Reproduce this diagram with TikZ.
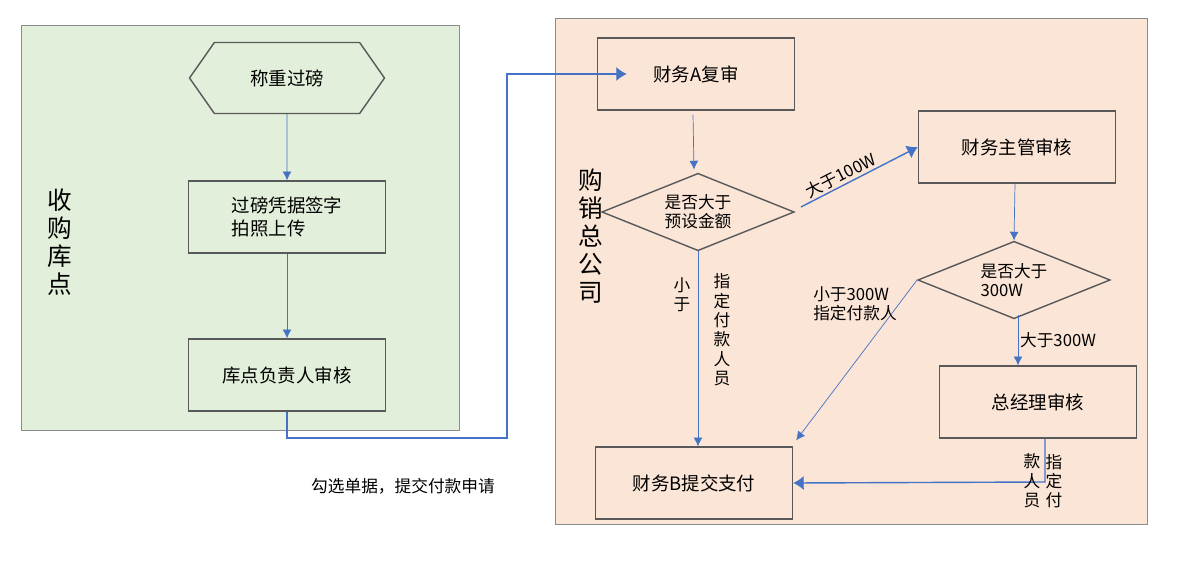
\documentclass[tikz,border=0pt]{standalone}
\usepackage{fontspec}
\setmainfont{Noto Sans CJK SC}
\usetikzlibrary{shapes,shapes.geometric,shapes.symbols,arrows.meta,calc,positioning}
\definecolor{flow}{HTML}{4472C4}
\definecolor{edge}{HTML}{595959}
\definecolor{greenbg}{HTML}{E2EFDA}
\definecolor{peachbg}{HTML}{FBE5D6}
\tikzset{
  box/.style={draw=edge,thick,minimum width=3.94cm,minimum height=1.44cm,font=\fontsize{10.5}{13}\selectfont},
  choice/.style={draw=edge,thick,diamond,aspect=2.55,inner sep=0pt,minimum width=3.85cm,minimum height=1.55cm,font=\fontsize{9.5}{11}\selectfont,align=left},
  thin flow/.style={flow,-{Latex[length=5pt,width=5pt]}},
  thick flow/.style={flow,thick,-{Latex[length=6pt,width=8pt]}},
  lbl/.style={font=\fontsize{9.5}{11}\selectfont,align=center,inner sep=1pt,text=black},
  side/.style={font=\fontsize{14}{16}\selectfont,align=center,inner sep=0pt}
}
\begin{document}
\begin{tikzpicture}[x=0.02cm,y=-0.02cm]
  \useasboundingbox (0,0) rectangle (1181,565);
  % panels
  \draw[edge!70,fill=greenbg] (21,25) rectangle (459,430);
  \draw[edge!70,fill=peachbg] (555,18) rectangle (1147,524);
  \node[side] (depot) at (60,242) {收\\购\\库\\点};
  \node[side] (head) at (591,236) {购\\销\\总\\公\\司};

  % left column
  \node[draw=edge,thick,signal,signal to=east and west,signal pointer angle=110,minimum width=3.9cm,minimum height=1.42cm,font=\fontsize{10.5}{13}\selectfont] (weigh) at (287,78) {称重过磅};
  \node[box,align=left] (sign) at (287,217) {过磅凭据签字\\拍照上传};
  \node[box] (depotok) at (287,375) {库点负责人审核};
  \draw[thin flow] (weigh) -- (sign);
  \draw[thin flow] (sign) -- (depotok);

  % right part
  \node[box] (reviewa) at (696,74) {财务A复审};
  \node[choice] (preset) at (698,212) {是否大于\\预设金额};
  \node[box] (chief) at (1017,147) {财务主管审核};
  \node[choice] (limit) at (1014,280) {是否大于\\300W};
  \node[box] (boss) at (1038,402) {总经理审核};
  \node[box] (payb) at (694,483) {财务B提交支付};

  \coordinate (turn) at (507,438);
  \draw[thick flow] (depotok.south) |- (turn) |- ($(reviewa.west)+(30,0)$);
  \draw[thin flow] (reviewa.south) ++(-3,4) -- ($(preset.north)+(-4,-3)$);
  \draw[thin flow] (preset.south) -- (preset.south |- payb.north);
  \node[lbl] (less) at (682,295) {小\\于};
  \node[lbl] (assign1) at (722,330) {指\\定\\付\\款\\人\\员};
  \draw[thick flow] ($(preset.east)+(6,-5)$) -- (chief.west) node[pos=0.38,above,sloped,lbl] (over100) {大于100W};
  \draw[thin flow] ($(chief.south)+(-2,0)$) -- (limit.north);
  \draw[thin flow] (limit.west) -- ($(payb.north east)+(3,-6)$);
  \node[lbl,align=left] (less300) at (855,304) {小于300W\\指定付款人};
  \draw[thin flow] ($(limit.south)+(4,-4)$) -- ($(boss.north)+(-20,0)$) node[midway,right,lbl] (over300) {大于300W};
  \coordinate (bend) at (1045,482);
  \draw[thick flow] ($(boss.south)+(7,0)$) -- (bend) -- (payb.east);
  \node[lbl] (assign2a) at (1054,481) {指\\定\\付};
  \node[lbl] (assign2b) at (1032,481) {款\\人\\员};
  \node[lbl] (note) at (403,486) {勾选单据，提交付款申请};
\end{tikzpicture}
\end{document}
